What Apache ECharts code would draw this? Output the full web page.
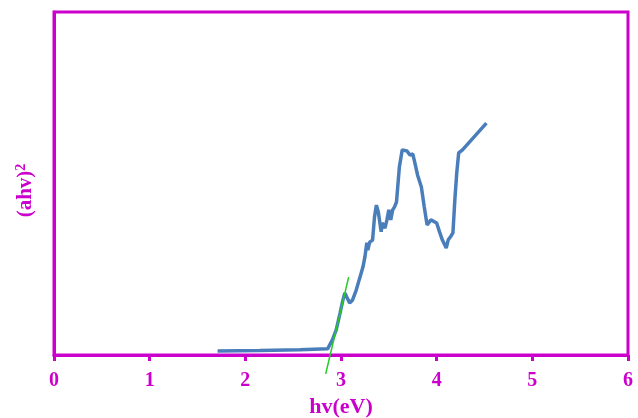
<!DOCTYPE html>
<html><head><meta charset="utf-8">
<script src="https://cdn.jsdelivr.net/npm/echarts@6/dist/echarts.min.js"></script>
<style>html,body{margin:0;padding:0;background:#fff}#c{width:638px;height:418px}</style>
</head><body><div id="c"></div>
<script>
const xTicks = [0, 1, 2, 3, 4, 5, 6];
const hv = [1.71,2.15,2.57,2.86,2.91,2.95,2.99,3.02,3.04,3.06,3.09,3.12,3.16,3.19,3.23,3.25,3.27,3.28,3.30,3.32,3.33,3.35,3.37,3.39,3.42,3.43,3.46,3.48,3.50,3.52,3.54,3.56,3.58,3.61,3.64,3.69,3.72,3.75,3.77,3.80,3.84,3.87,3.90,3.94,3.96,4.00,4.03,4.06,4.10,4.12,4.15,4.17,4.19,4.21,4.23,4.27,4.52];
const ahv2 = [1.2,1.3,1.5,1.8,4.4,7.3,12.2,16.0,18.1,16.9,15.2,16.0,19.0,21.9,25.7,28.6,32.7,30.6,32.9,32.7,33.5,40.2,43.7,41.7,35.9,38.5,37.0,39.4,42.3,39.4,42.3,43.2,44.6,54.8,59.8,59.5,58.3,58.6,56.3,52.5,49.0,43.2,37.9,39.4,39.9,38.5,35.9,33.5,31.2,33.5,34.7,35.6,45.2,53.1,58.9,59.8,67.6];
const tangentX = [2.84, 3.08];
const tangentY = [-5.5, 22.7];

const mag = '#cc00cc';
const chart = echarts.init(document.getElementById('c'));
chart.setOption({
  animation: false,
  grid: {left: 54, right: 10, top: 12, bottom: 63, show: true, borderColor: mag, borderWidth: 3, backgroundColor: 'transparent', outerBoundsMode: 'none', containLabel: false},
  xAxis: {
    type: 'value', min: 0, max: 6, interval: 1,
    name: 'hv(eV)', nameLocation: 'middle', nameGap: 39,
    nameTextStyle: {color: mag, fontFamily: 'Liberation Serif', fontWeight: 'bold', fontSize: 22},
    axisLine: {show: true, onZero: false, lineStyle: {color: mag, width: 3}},
    axisTick: {show: true, length: 6, lineStyle: {color: mag, width: 3}},
    axisLabel: {color: mag, fontFamily: 'Liberation Serif', fontWeight: 'bold', fontSize: 20, margin: 16,
      formatter: v => xTicks.includes(v) ? String(v) : ''},
    splitLine: {show: false}
  },
  yAxis: {
    type: 'value', min: 0, max: 100,
    name: '(ahv){s|2}', nameLocation: 'middle', nameGap: 16,
    nameTextStyle: {color: mag, fontFamily: 'Liberation Serif', fontWeight: 'bold', fontSize: 21, padding: [0, 14, 0, 0],
      rich: {s: {color: mag, fontFamily: 'Liberation Serif', fontWeight: 'bold', fontSize: 14, verticalAlign: 'top', padding: [0,0,10,0]}}},
    axisLine: {show: true, lineStyle: {color: mag, width: 3}},
    axisTick: {show: false}, axisLabel: {show: false}, splitLine: {show: false}
  },
  series: [
    {type: 'line', data: hv.map((x, i) => [x, ahv2[i]]), showSymbol: false, smooth: false,
      lineStyle: {color: '#4a7ebb', width: 3.5}, z: 2},
    {type: 'line', data: tangentX.map((x, i) => [x, tangentY[i]]), showSymbol: false, clip: false,
      lineStyle: {color: '#22cc22', width: 1.5}, z: 3}
  ]
});
</script></body></html>
